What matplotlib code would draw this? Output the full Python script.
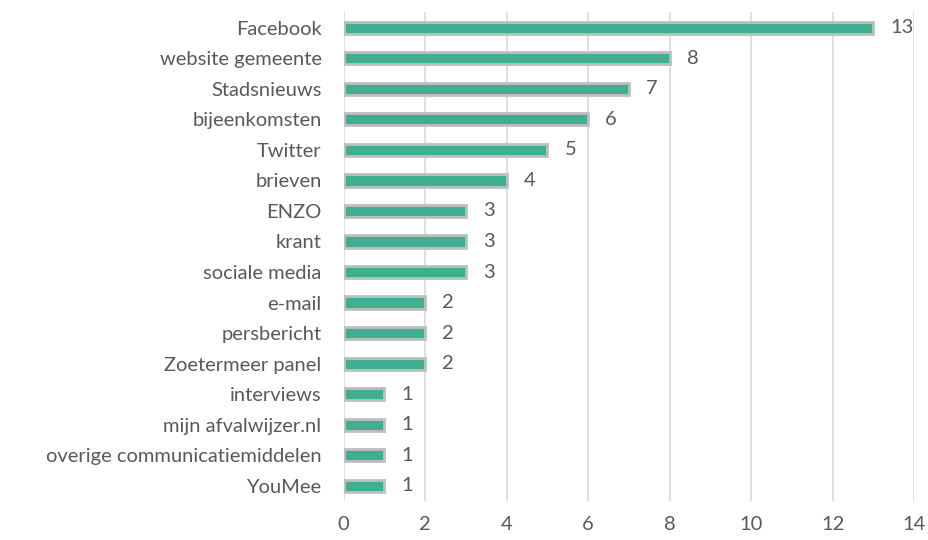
import matplotlib.pyplot as plt

categories = ['Facebook', 'website gemeente', 'Stadsnieuws', 'bijeenkomsten', 'Twitter',
              'brieven', 'ENZO', 'krant', 'sociale media', 'e-mail', 'persbericht',
              'Zoetermeer panel', 'interviews', 'mijn afvalwijzer.nl',
              'overige communicatiemiddelen', 'YouMee']
counts = [13, 8, 7, 6, 5, 4, 3, 3, 3, 2, 2, 2, 1, 1, 1, 1]
xticks = [0, 2, 4, 6, 8, 10, 12, 14]

plt.rcParams['font.family'] = ['Lato', 'DejaVu Sans']
text_col = '#595959'
fs = 14.5

fig = plt.figure(figsize=(9.29, 5.4), dpi=100)
ax = fig.add_axes([0.370, 0.072, 0.614, 0.905])

ypos = list(range(len(categories)))
ax.barh(ypos, counts, height=0.4, color='#3FAF8F', edgecolor='#BFBFBF', linewidth=2, zorder=3)

for y, v in zip(ypos, counts):
    ax.text(v + 0.42, y, str(v), va='center', ha='left', fontsize=fs, color=text_col)

ax.set_ylim(len(categories) - 0.5, -0.5)
ax.set_xlim(0, 14)
ax.set_yticks(ypos)
ax.set_yticklabels(categories, fontsize=fs, color=text_col)
ax.set_xticks(xticks)
ax.set_xticklabels([str(t) for t in xticks], fontsize=fs, color=text_col)
ax.tick_params(axis='both', length=0)
ax.tick_params(axis='y', pad=16)
ax.tick_params(axis='x', pad=11)

ax.grid(axis='x', color='#D9D9D9', linewidth=1.2, zorder=0)
for s in ax.spines.values():
    s.set_visible(False)

plt.savefig('out.png', dpi=100)
